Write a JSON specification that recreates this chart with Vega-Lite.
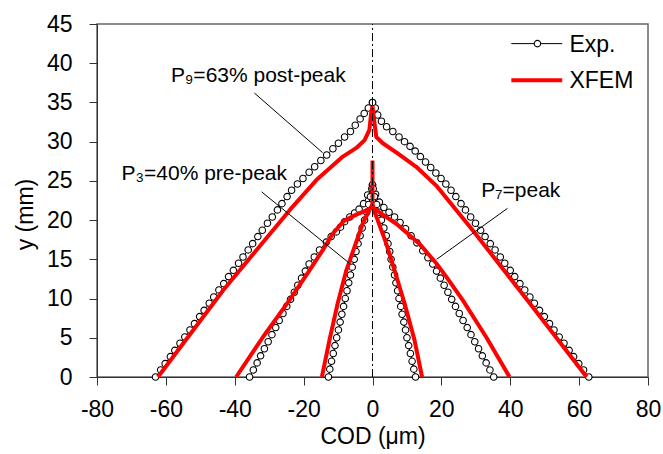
{
  "$schema": "https://vega.github.io/schema/vega-lite/v6.json",
  "width": 551,
  "height": 353,
  "autosize": "none",
  "padding": {"left": 97, "top": 24, "right": 15, "bottom": 77},
  "background": "white",
  "config": {
    "font": "Liberation Sans",
    "view": {"stroke": "#666666", "strokeWidth": 1.5},
    "axis": {"grid": false, "domainColor": "#333333", "tickColor": "#333333", "labelColor": "black", "titleColor": "black", "labelFontSize": 23, "titleFontSize": 23, "titleFontWeight": "normal", "tickSize": 8, "labelFont": "Liberation Sans", "titleFont": "Liberation Sans"}
  },
  "datasets": {
    "exp": [
      {"b":"P9L","x":-63.0,"y":0},{"b":"P9L","x":-61.5,"y":0.9},{"b":"P9L","x":-60.2,"y":1.7},{"b":"P9L","x":-58.7,"y":2.6},{"b":"P9L","x":-57.4,"y":3.4},{"b":"P9L","x":-55.9,"y":4.3},{"b":"P9L","x":-54.5,"y":5.1},{"b":"P9L","x":-53.0,"y":6.0},{"b":"P9L","x":-51.7,"y":6.8},{"b":"P9L","x":-50.2,"y":7.7},{"b":"P9L","x":-48.9,"y":8.5},{"b":"P9L","x":-47.4,"y":9.4},{"b":"P9L","x":-46.1,"y":10.2},{"b":"P9L","x":-44.6,"y":11.1},{"b":"P9L","x":-43.2,"y":11.9},{"b":"P9L","x":-41.8,"y":12.8},{"b":"P9L","x":-40.4,"y":13.6},{"b":"P9L","x":-38.9,"y":14.5},{"b":"P9L","x":-37.6,"y":15.3},{"b":"P9L","x":-36.1,"y":16.2},{"b":"P9L","x":-34.8,"y":17.0},{"b":"P9L","x":-33.3,"y":17.9},{"b":"P9L","x":-32.0,"y":18.7},{"b":"P9L","x":-30.5,"y":19.6},{"b":"P9L","x":-29.1,"y":20.4},{"b":"P9L","x":-27.6,"y":21.3},{"b":"P9L","x":-26.3,"y":22.1},{"b":"P9L","x":-24.8,"y":23.0},{"b":"P9L","x":-23.5,"y":23.8},{"b":"P9L","x":-21.8,"y":24.6},{"b":"P9L","x":-20.2,"y":25.3},{"b":"P9L","x":-18.4,"y":26.1},{"b":"P9L","x":-16.8,"y":26.8},{"b":"P9L","x":-15.0,"y":27.6},{"b":"P9L","x":-13.3,"y":28.3},{"b":"P9L","x":-11.5,"y":29.1},{"b":"P9L","x":-9.9,"y":29.8},{"b":"P9L","x":-8.1,"y":30.6},{"b":"P9L","x":-6.4,"y":31.3},{"b":"P9L","x":-5.0,"y":32.1},{"b":"P9L","x":-3.6,"y":32.9},{"b":"P9L","x":-2.4,"y":33.6},{"b":"P9L","x":-1.2,"y":34.3},{"b":"P9L","x":0,"y":35.0},
      {"b":"P9R","x":62.8,"y":0},{"b":"P9R","x":61.3,"y":0.9},{"b":"P9R","x":59.9,"y":1.7},{"b":"P9R","x":58.4,"y":2.6},{"b":"P9R","x":57.1,"y":3.4},{"b":"P9R","x":55.6,"y":4.3},{"b":"P9R","x":54.2,"y":5.1},{"b":"P9R","x":52.7,"y":6.0},{"b":"P9R","x":51.4,"y":6.8},{"b":"P9R","x":49.9,"y":7.7},{"b":"P9R","x":48.5,"y":8.5},{"b":"P9R","x":47.0,"y":9.4},{"b":"P9R","x":45.7,"y":10.2},{"b":"P9R","x":44.2,"y":11.1},{"b":"P9R","x":42.8,"y":11.9},{"b":"P9R","x":41.3,"y":12.8},{"b":"P9R","x":40.0,"y":13.6},{"b":"P9R","x":38.4,"y":14.5},{"b":"P9R","x":37.1,"y":15.3},{"b":"P9R","x":35.6,"y":16.2},{"b":"P9R","x":34.2,"y":17.0},{"b":"P9R","x":32.7,"y":17.9},{"b":"P9R","x":31.4,"y":18.7},{"b":"P9R","x":29.9,"y":19.6},{"b":"P9R","x":28.5,"y":20.4},{"b":"P9R","x":27.0,"y":21.3},{"b":"P9R","x":25.7,"y":22.1},{"b":"P9R","x":24.2,"y":23.0},{"b":"P9R","x":22.8,"y":23.8},{"b":"P9R","x":21.3,"y":24.6},{"b":"P9R","x":19.9,"y":25.3},{"b":"P9R","x":18.4,"y":26.0},{"b":"P9R","x":16.9,"y":26.7},{"b":"P9R","x":15.4,"y":27.4},{"b":"P9R","x":13.9,"y":28.1},{"b":"P9R","x":12.4,"y":28.8},{"b":"P9R","x":10.9,"y":29.4},{"b":"P9R","x":9.3,"y":30.0},{"b":"P9R","x":7.7,"y":30.6},{"b":"P9R","x":5.9,"y":31.3},{"b":"P9R","x":4.1,"y":31.9},{"b":"P9R","x":2.6,"y":32.6},{"b":"P9R","x":1.5,"y":33.4},{"b":"P9R","x":0.8,"y":34.3},{"b":"P9R","x":0,"y":35.0},
      {"b":"P7L","x":-35.7,"y":0},{"b":"P7L","x":-34.6,"y":0.9},{"b":"P7L","x":-33.5,"y":1.8},{"b":"P7L","x":-32.5,"y":2.7},{"b":"P7L","x":-31.4,"y":3.6},{"b":"P7L","x":-30.3,"y":4.5},{"b":"P7L","x":-29.2,"y":5.4},{"b":"P7L","x":-28.1,"y":6.3},{"b":"P7L","x":-27.1,"y":7.2},{"b":"P7L","x":-26.0,"y":8.1},{"b":"P7L","x":-24.9,"y":9.0},{"b":"P7L","x":-23.8,"y":9.9},{"b":"P7L","x":-22.7,"y":10.8},{"b":"P7L","x":-21.7,"y":11.7},{"b":"P7L","x":-20.6,"y":12.6},{"b":"P7L","x":-19.5,"y":13.5},{"b":"P7L","x":-18.4,"y":14.4},{"b":"P7L","x":-16.9,"y":15.3},{"b":"P7L","x":-15.4,"y":16.2},{"b":"P7L","x":-13.4,"y":17.2},{"b":"P7L","x":-12.0,"y":17.9},{"b":"P7L","x":-10.5,"y":18.5},{"b":"P7L","x":-9.3,"y":19.1},{"b":"P7L","x":-8.1,"y":19.8},{"b":"P7L","x":-6.6,"y":20.4},{"b":"P7L","x":-5.2,"y":20.9},{"b":"P7L","x":-3.9,"y":21.4},{"b":"P7L","x":-2.6,"y":22.1},{"b":"P7L","x":-1.4,"y":23.2},{"b":"P7L","x":0,"y":24.5},
      {"b":"P7R","x":35.2,"y":0},{"b":"P7R","x":34.1,"y":0.9},{"b":"P7R","x":33.0,"y":1.8},{"b":"P7R","x":31.9,"y":2.7},{"b":"P7R","x":30.8,"y":3.6},{"b":"P7R","x":29.7,"y":4.5},{"b":"P7R","x":28.6,"y":5.4},{"b":"P7R","x":27.5,"y":6.3},{"b":"P7R","x":26.3,"y":7.2},{"b":"P7R","x":25.2,"y":8.1},{"b":"P7R","x":24.1,"y":9.0},{"b":"P7R","x":23.0,"y":9.9},{"b":"P7R","x":21.9,"y":10.8},{"b":"P7R","x":20.8,"y":11.7},{"b":"P7R","x":19.7,"y":12.6},{"b":"P7R","x":18.6,"y":13.5},{"b":"P7R","x":17.5,"y":14.4},{"b":"P7R","x":16.1,"y":15.2},{"b":"P7R","x":14.6,"y":16.1},{"b":"P7R","x":12.9,"y":17.1},{"b":"P7R","x":11.2,"y":18.0},{"b":"P7R","x":9.6,"y":18.9},{"b":"P7R","x":8.0,"y":19.7},{"b":"P7R","x":6.4,"y":20.4},{"b":"P7R","x":4.8,"y":21.0},{"b":"P7R","x":3.3,"y":21.6},{"b":"P7R","x":2.0,"y":22.3},{"b":"P7R","x":0.9,"y":23.3},{"b":"P7R","x":0,"y":24.5},
      {"b":"P3L","x":-12.8,"y":0},{"b":"P3L","x":-12.4,"y":1},{"b":"P3L","x":-11.9,"y":2},{"b":"P3L","x":-11.4,"y":3},{"b":"P3L","x":-10.9,"y":4},{"b":"P3L","x":-10.4,"y":5},{"b":"P3L","x":-9.9,"y":6},{"b":"P3L","x":-9.4,"y":7},{"b":"P3L","x":-8.9,"y":8},{"b":"P3L","x":-8.4,"y":9},{"b":"P3L","x":-7.9,"y":10},{"b":"P3L","x":-7.4,"y":11},{"b":"P3L","x":-6.9,"y":12},{"b":"P3L","x":-6.4,"y":13},{"b":"P3L","x":-5.9,"y":14},{"b":"P3L","x":-5.3,"y":15},{"b":"P3L","x":-4.8,"y":16},{"b":"P3L","x":-4.2,"y":17},{"b":"P3L","x":-3.6,"y":18},{"b":"P3L","x":-3.0,"y":19},{"b":"P3L","x":-2.3,"y":20},{"b":"P3L","x":-1.7,"y":21},{"b":"P3L","x":-1.1,"y":22},{"b":"P3L","x":-0.6,"y":23},{"b":"P3L","x":-0.2,"y":24},
      {"b":"P3R","x":12.5,"y":0},{"b":"P3R","x":12.0,"y":1},{"b":"P3R","x":11.5,"y":2},{"b":"P3R","x":11.0,"y":3},{"b":"P3R","x":10.5,"y":4},{"b":"P3R","x":10.0,"y":5},{"b":"P3R","x":9.6,"y":6},{"b":"P3R","x":9.1,"y":7},{"b":"P3R","x":8.6,"y":8},{"b":"P3R","x":8.2,"y":9},{"b":"P3R","x":7.7,"y":10},{"b":"P3R","x":7.3,"y":11},{"b":"P3R","x":6.8,"y":12},{"b":"P3R","x":6.4,"y":13},{"b":"P3R","x":5.9,"y":14},{"b":"P3R","x":5.4,"y":15},{"b":"P3R","x":5.0,"y":16},{"b":"P3R","x":4.5,"y":17},{"b":"P3R","x":4.0,"y":18},{"b":"P3R","x":3.3,"y":19},{"b":"P3R","x":2.6,"y":20},{"b":"P3R","x":1.9,"y":21},{"b":"P3R","x":1.2,"y":22},{"b":"P3R","x":0.6,"y":23},{"b":"P3R","x":0.2,"y":24}
    ],
    "fem": [
      {"b":"F9L","x":-62.3,"y":0},{"b":"F9L","x":-43.3,"y":11.1},{"b":"F9L","x":-24.0,"y":21.3},{"b":"F9L","x":-16.3,"y":25.1},{"b":"F9L","x":-8.6,"y":28.1},{"b":"F9L","x":-4.7,"y":29.2},{"b":"F9L","x":-2.3,"y":30.2},{"b":"F9L","x":-0.9,"y":31.5},{"b":"F9L","x":-0.4,"y":33.6},{"b":"F9L","x":0,"y":34.5},
      {"b":"F9R","x":62.2,"y":0},{"b":"F9R","x":45.5,"y":9.5},{"b":"F9R","x":29.1,"y":18.7},{"b":"F9R","x":18.5,"y":24.4},{"b":"F9R","x":12.7,"y":26.8},{"b":"F9R","x":7.3,"y":28.5},{"b":"F9R","x":3.0,"y":29.8},{"b":"F9R","x":1.1,"y":30.6},{"b":"F9R","x":0.6,"y":32.3},{"b":"F9R","x":0,"y":34.5},
      {"b":"F7L","x":-39.6,"y":0},{"b":"F7L","x":-31.8,"y":5.1},{"b":"F7L","x":-24.1,"y":9.8},{"b":"F7L","x":-18.3,"y":13.6},{"b":"F7L","x":-14.4,"y":16.2},{"b":"F7L","x":-11.5,"y":18.3},{"b":"F7L","x":-8.3,"y":19.9},{"b":"F7L","x":-4.7,"y":20.7},{"b":"F7L","x":-1.4,"y":21.3},{"b":"F7L","x":0,"y":21.7},{"b":"F7L","x":0,"y":27.6},
      {"b":"F7R","x":39.8,"y":0},{"b":"F7R","x":33.0,"y":5.1},{"b":"F7R","x":26.2,"y":9.8},{"b":"F7R","x":21.4,"y":12.8},{"b":"F7R","x":18.5,"y":14.5},{"b":"F7R","x":13.6,"y":17.0},{"b":"F7R","x":7.0,"y":19.5},{"b":"F7R","x":3.0,"y":20.7},{"b":"F7R","x":1.0,"y":21.3},{"b":"F7R","x":0,"y":21.7},
      {"b":"F3L","x":-14.7,"y":0},{"b":"F3L","x":-12.5,"y":4.7},{"b":"F3L","x":-10.1,"y":9.4},{"b":"F3L","x":-7.6,"y":13.6},{"b":"F3L","x":-5.2,"y":16.6},{"b":"F3L","x":-2.8,"y":19.6},{"b":"F3L","x":-0.9,"y":21.3},{"b":"F3L","x":0,"y":22.0},
      {"b":"F3R","x":14.4,"y":0},{"b":"F3R","x":12.2,"y":4.7},{"b":"F3R","x":9.3,"y":9.4},{"b":"F3R","x":6.4,"y":13.6},{"b":"F3R","x":4.0,"y":17.0},{"b":"F3R","x":1.5,"y":20.0},{"b":"F3R","x":0.2,"y":21.5},{"b":"F3R","x":0,"y":22.0}
    ]
  },
  "encoding": {
    "x": {"field": "x", "type": "quantitative", "scale": {"domain": [-80, 80], "nice": false, "zero": false},
          "axis": {"values": [-80,-60,-40,-20,0,20,40,60,80], "title": "COD (μm)", "labelPadding": 13, "titleBaseline": "alphabetic", "titleY": 66, "labelFlush": false, "labelOverlap": false,
                   "labelExpr": "datum.value < 0 ? '-' + abs(datum.value) : '' + datum.value"}},
    "y": {"field": "y", "type": "quantitative", "scale": {"domain": [0, 45], "nice": false},
          "axis": {"values": [0,5,10,15,20,25,30,35,40,45], "title": "y (mm)", "labelPadding": 17, "titleBaseline": "alphabetic", "titleX": -65, "titleY": 190, "titleAngle": -90, "labelFlush": false, "labelOverlap": false}}
  },
  "layer": [
    {
      "data": {"name": "exp"},
      "mark": {"type": "line", "color": "black", "strokeWidth": 1},
      "encoding": {
        "detail": {"field": "b"},
        "order": {"field": "y", "type": "quantitative"}
      }
    },
    {
      "data": {"name": "exp"},
      "mark": {"type": "point", "shape": "circle", "size": 42, "filled": true, "fill": "white", "stroke": "black", "strokeWidth": 1.1, "opacity": 1},
      "encoding": {}
    },
    {
      "data": {"name": "fem"},
      "mark": {"type": "line", "color": "#ff0000", "strokeWidth": 4, "strokeJoin": "round"},
      "encoding": {
        "detail": {"field": "b"},
        "order": {"field": "y", "type": "quantitative"}
      }
    },
    {
      "data": {"values": [{"x": 0, "y": 0, "y2": 45}]},
      "mark": {"type": "rule", "color": "black", "strokeWidth": 1, "strokeDash": [8, 3, 2, 3]},
      "encoding": {
        "y2": {"field": "y2"}
      }
    },
    {
      "data": {"values": [
        {"x": -34.3, "y": 36.2, "x2": -14.5, "y2": 28.6},
        {"x": -32.2, "y": 23.6, "x2": -6.7, "y2": 14.5},
        {"x": 39.2, "y": 21.5, "x2": 18.6, "y2": 15.0}
      ]},
      "mark": {"type": "rule", "color": "black", "strokeWidth": 1},
      "encoding": {
        "x2": {"field": "x2"},
        "y2": {"field": "y2"}
      }
    },
    {
      "data": {"values": [
        {"x": -58.5, "y": 37.65, "t": "P₉=63% post-peak"},
        {"x": -72.9, "y": 25.1, "t": "P₃=40% pre-peak"},
        {"x": 31.6, "y": 22.95, "t": "P₇=peak"}
      ]},
      "mark": {"type": "text", "align": "left", "baseline": "alphabetic", "fontSize": 21, "font": "Liberation Sans", "color": "black"},
      "encoding": {
        "text": {"field": "t"}
      }
    },
    {
      "data": {"values": [{"s": "Exp", "x": 40.3, "y": 42.5}, {"s": "Exp", "x": 55.1, "y": 42.5}]},
      "mark": {"type": "line", "color": "black", "strokeWidth": 1},
      "encoding": {}
    },
    {
      "data": {"values": [{"x": 47.9, "y": 42.5}]},
      "mark": {"type": "point", "shape": "circle", "size": 42, "filled": true, "fill": "white", "stroke": "black", "strokeWidth": 1.1, "opacity": 1},
      "encoding": {}
    },
    {
      "data": {"values": [{"s": "XFEM", "x": 40.3, "y": 37.83}, {"s": "XFEM", "x": 55.1, "y": 37.83}]},
      "mark": {"type": "line", "color": "#ff0000", "strokeWidth": 4},
      "encoding": {}
    },
    {
      "data": {"values": [{"x": 57.2, "y": 41.47, "t": "Exp."}, {"x": 57.2, "y": 36.8, "t": "XFEM"}]},
      "mark": {"type": "text", "align": "left", "baseline": "alphabetic", "fontSize": 23, "font": "Liberation Sans", "color": "black"},
      "encoding": {
        "text": {"field": "t"}
      }
    }
  ]
}
